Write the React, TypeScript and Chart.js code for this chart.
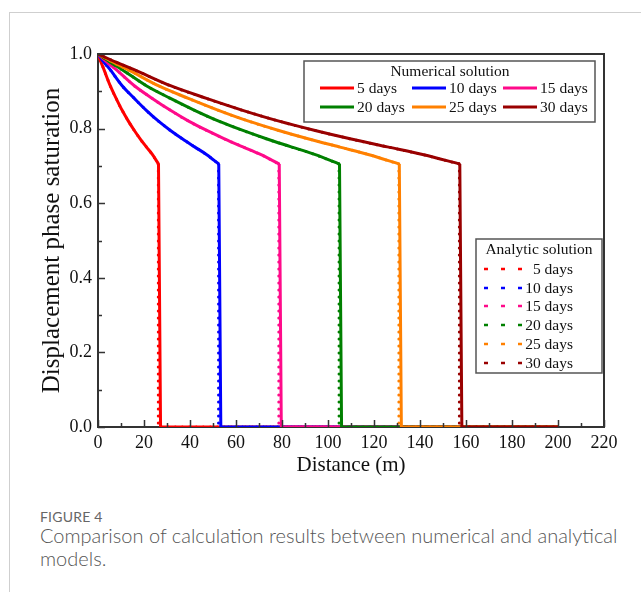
import React, { useEffect, useRef } from 'react';
import { Chart, registerables } from 'chart.js';

Chart.register(...registerables);

const SERIF = '"Liberation Serif", "Times New Roman", serif';

const dayLabels = ['5 days', '10 days', '15 days', '20 days', '25 days', '30 days'];
const seriesColors = ['#ff0000', '#0000ff', '#ff0a8a', '#008000', '#ff8000', '#990000'];

// displacement phase saturation along each profile (curve up to the front, then drop, then tail)
const profileSaturation = [1.0, 0.978, 0.958, 0.915, 0.881, 0.849, 0.82, 0.795, 0.772, 0.751, 0.73, 0.705, 0, 0];
const frontIndex = 11;

// numerical solution distances (m)
const numDist5 = [0, 1.3, 2.6, 5.3, 7.9, 10.5, 13.2, 15.8, 18.4, 21.0, 23.7, 26.3, 27.2, 200];
const numDist10 = [0, 2.6, 5.3, 10.5, 15.8, 21.0, 26.3, 31.5, 36.8, 42.0, 47.3, 52.5, 53.4, 200];
const numDist15 = [0, 3.9, 7.9, 15.8, 23.6, 31.5, 39.4, 47.3, 55.2, 63.0, 70.9, 78.8, 79.7, 200];
const numDist20 = [0, 5.3, 10.5, 21.0, 31.5, 42.0, 52.5, 63.0, 73.5, 84.0, 94.5, 105.0, 105.9, 200];
const numDist25 = [0, 6.6, 13.1, 26.2, 39.3, 52.4, 65.5, 78.6, 91.7, 104.8, 117.9, 131.0, 131.9, 200];
const numDist30 = [0, 7.9, 15.7, 31.5, 47.2, 62.9, 78.7, 94.4, 110.1, 125.8, 141.6, 157.3, 158.2, 200];

// analytic solution distances (m)
const anaDist5 = [0, 1.3, 2.6, 5.3, 7.9, 10.5, 13.2, 15.8, 18.4, 21.0, 23.7, 26.2, 26.2, 200];
const anaDist10 = [0, 2.6, 5.3, 10.5, 15.8, 21.0, 26.3, 31.5, 36.8, 42.0, 47.3, 52.4, 52.4, 200];
const anaDist15 = [0, 3.9, 7.9, 15.8, 23.6, 31.5, 39.4, 47.3, 55.2, 63.0, 70.9, 78.6, 78.6, 200];
const anaDist20 = [0, 5.3, 10.5, 21.0, 31.5, 42.0, 52.5, 63.0, 73.5, 84.0, 94.5, 104.8, 104.8, 200];
const anaDist25 = [0, 6.6, 13.1, 26.2, 39.3, 52.4, 65.5, 78.6, 91.7, 104.8, 117.9, 130.8, 130.8, 200];
const anaDist30 = [0, 7.9, 15.7, 31.5, 47.2, 62.9, 78.7, 94.4, 110.1, 125.8, 141.6, 157.1, 157.1, 200];

const numericalDistances = [numDist5, numDist10, numDist15, numDist20, numDist25, numDist30];
const analyticDistances = [anaDist5, anaDist10, anaDist15, anaDist20, anaDist25, anaDist30];

const xAxisMax = 220;
const yAxisMax = 1.0;

const decorPlugin = {
  id: 'decor',
  afterDraw(chart: any) {
    const ctx = chart.ctx as CanvasRenderingContext2D;
    const { left, right, top, bottom } = chart.chartArea;
    const xs = chart.scales.x;
    const ys = chart.scales.y;
    ctx.save();
    ctx.strokeStyle = '#333';
    ctx.lineWidth = 2;
    ctx.beginPath();
    ctx.moveTo(left, top);
    ctx.lineTo(right, top);
    ctx.lineTo(right, bottom);
    ctx.stroke();

    // inward ticks
    ctx.lineWidth = 1.5;
    ctx.beginPath();
    for (let v = 0; v <= xAxisMax; v += 10) {
      const px = Math.round(xs.getPixelForValue(v)) + 0.5;
      const len = v % 20 === 0 ? 7 : 4;
      ctx.moveTo(px, bottom);
      ctx.lineTo(px, bottom - len);
    }
    for (let k = 0; k <= 10; k++) {
      const py = Math.round(ys.getPixelForValue(k / 10)) + 0.5;
      const len = k % 2 === 0 ? 7 : 4;
      ctx.moveTo(left, py);
      ctx.lineTo(left + len, py);
    }
    ctx.stroke();

    // Numerical legend
    ctx.fillStyle = '#fff';
    ctx.fillRect(304, 61, 291, 61);
    ctx.strokeStyle = '#555';
    ctx.lineWidth = 1.5;
    ctx.strokeRect(304, 61, 291, 61);
    ctx.fillStyle = '#111';
    ctx.font = `15.5px ${SERIF}`;
    ctx.textBaseline = 'middle';
    ctx.textAlign = 'center';
    ctx.fillText('Numerical solution', 450, 72);
    ctx.textAlign = 'left';
    const colLineStart = [320, 412, 503];
    const rowY = [88, 107];
    for (let i = 0; i < 6; i++) {
      const c = i % 3;
      const r = Math.floor(i / 3);
      const x0 = colLineStart[c];
      ctx.strokeStyle = seriesColors[i];
      ctx.lineWidth = 3;
      ctx.beginPath();
      ctx.moveTo(x0, rowY[r]);
      ctx.lineTo(x0 + 34, rowY[r]);
      ctx.stroke();
      ctx.fillStyle = '#111';
      ctx.fillText(dayLabels[i], x0 + 37, rowY[r] + 1);
    }

    // Analytic legend
    ctx.fillStyle = '#fff';
    ctx.fillRect(476, 239, 126, 134);
    ctx.strokeStyle = '#555';
    ctx.lineWidth = 1.5;
    ctx.strokeRect(476, 239, 126, 134);
    ctx.fillStyle = '#111';
    ctx.textAlign = 'center';
    ctx.fillText('Analytic solution', 539, 250);
    ctx.textAlign = 'right';
    const aRows = [269, 288, 306, 325, 344, 363];
    for (let i = 0; i < 6; i++) {
      const y = aRows[i];
      ctx.strokeStyle = seriesColors[i];
      ctx.lineWidth = 2.5;
      ctx.beginPath();
      for (const dx of [486, 503, 520]) {
        ctx.moveTo(dx - 2, y);
        ctx.lineTo(dx + 2, y);
      }
      ctx.stroke();
      ctx.fillStyle = '#111';
      ctx.fillText(dayLabels[i], 573, y + 1);
    }
    ctx.restore();
  },
};

function toPoints(dist: number[], from: number, to: number) {
  const pts: { x: number; y: number }[] = [];
  for (let k = from; k <= to; k++) pts.push({ x: dist[k], y: profileSaturation[k] });
  return pts;
}

export default function App() {
  const canvasRef = useRef<HTMLCanvasElement>(null);

  useEffect(() => {
    const datasets: any[] = [];
    const last = profileSaturation.length - 1;
    for (let i = 0; i < 6; i++) {
      const baseOrder = (5 - i) * 4;
      const solid = { borderColor: seriesColors[i], borderWidth: 3, pointRadius: 0, fill: false };
      const dotted = {
        borderColor: seriesColors[i],
        borderWidth: 3,
        borderDash: [0, 7],
        borderCapStyle: 'round',
        pointRadius: 0,
        fill: false,
      };
      datasets.push({ ...solid, label: `Numerical ${dayLabels[i]}`, data: toPoints(numericalDistances[i], 0, frontIndex), cubicInterpolationMode: 'monotone', order: baseOrder + 3 });
      datasets.push({ ...solid, label: `Numerical ${dayLabels[i]} front`, data: toPoints(numericalDistances[i], frontIndex, last), tension: 0, order: baseOrder + 2 });
      datasets.push({ ...dotted, label: `Analytic ${dayLabels[i]}`, data: toPoints(analyticDistances[i], 0, frontIndex), cubicInterpolationMode: 'monotone', order: baseOrder + 1 });
      datasets.push({ ...dotted, label: `Analytic ${dayLabels[i]} front`, data: toPoints(analyticDistances[i], frontIndex, last), tension: 0, order: baseOrder });
    }
    const chart = new Chart(canvasRef.current!, {
      type: 'line',
      data: { datasets },
      plugins: [decorPlugin],
      options: {
        animation: false,
        responsive: false,
        devicePixelRatio: 1,
        layout: { padding: { left: 37, top: 54, right: 37, bottom: 8 } },
        plugins: { legend: { display: false }, tooltip: { enabled: false } },
        scales: {
          x: {
            type: 'linear',
            min: 0,
            max: xAxisMax,
            afterFit: (s: any) => { s.height = 51; },
            ticks: { stepSize: 20, padding: 5, color: '#111', font: { family: SERIF, size: 18 } },
            grid: { display: false, drawTicks: false },
            border: { display: true, color: '#333', width: 2 },
            title: { display: true, text: 'Distance (m)', color: '#111', padding: 0, font: { family: SERIF, size: 21 } },
          },
          y: {
            type: 'linear',
            min: 0,
            max: yAxisMax,
            afterFit: (s: any) => { s.width = 61; },
            ticks: {
              stepSize: 0.2,
              padding: 6,
              color: '#111',
              font: { family: SERIF, size: 18 },
              callback: (v: any) => Number(v).toFixed(1),
            },
            grid: { display: false, drawTicks: false },
            border: { display: true, color: '#333', width: 2 },
            title: { display: true, text: 'Displacement phase saturation', color: '#111', padding: 0, font: { family: SERIF, size: 25 } },
          },
        },
      },
    });
    return () => chart.destroy();
  }, []);

  return (
    <div style={{ position: 'absolute', left: 0, top: 0, width: 641, height: 592, background: '#fff', overflow: 'hidden' }}>
      <div style={{ position: 'absolute', left: 9, top: 12, width: 640, height: 600, borderTop: '1px solid #cfcfcf', borderLeft: '1px solid #cfcfcf' }} />
      <canvas ref={canvasRef} width={641} height={486} style={{ position: 'absolute', left: 0, top: 0, width: 641, height: 486 }} />
      <div style={{ position: 'absolute', left: 40, top: 508, fontFamily: 'Lato, "Open Sans", sans-serif', fontSize: 14, color: '#666', letterSpacing: 0.2 }}>FIGURE 4</div>
      <div style={{ position: 'absolute', left: 40, top: 524, width: 600, fontFamily: 'Lato, "Open Sans", sans-serif', fontWeight: 300, fontSize: 20, lineHeight: '23px', color: '#555' }}>
        Comparison of calculation results between numerical and analytical models.
      </div>
    </div>
  );
}
